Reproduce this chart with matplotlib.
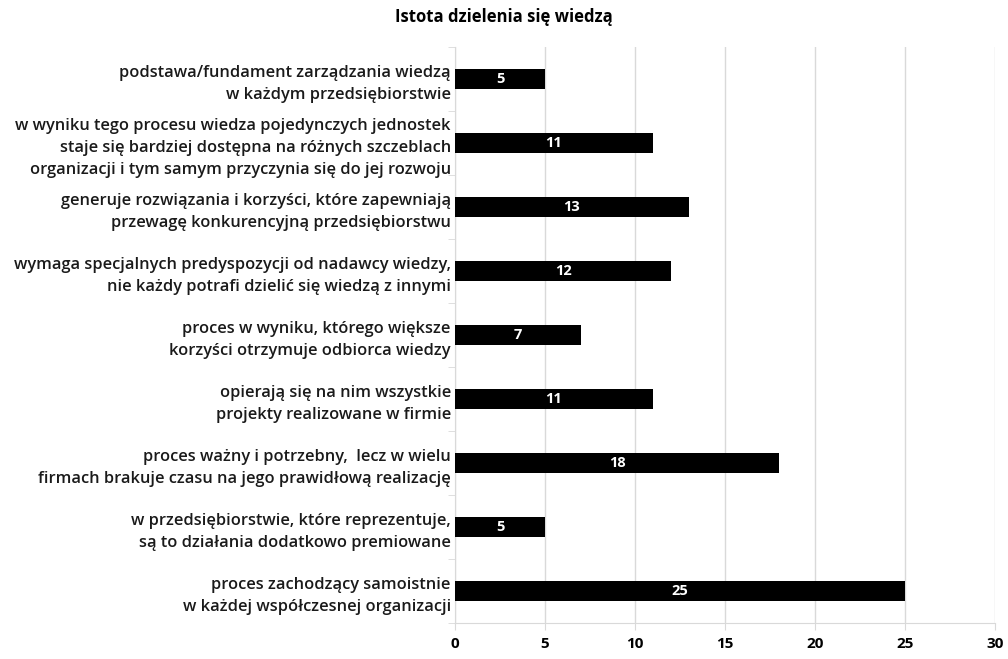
import matplotlib
matplotlib.use("Agg")
import matplotlib.pyplot as plt
import numpy as np

plt.rcParams['font.family'] = ['Open Sans', 'DejaVu Sans']

title = 'Istota dzielenia się wiedzą'
labels = [
    'podstawa/fundament zarządzania wiedzą\nw każdym przedsiębiorstwie',
    'w wyniku tego procesu wiedza pojedynczych jednostek\nstaje się bardziej dostępna na różnych szczeblach\norganizacji i tym samym przyczynia się do jej rozwoju',
    'generuje rozwiązania i korzyści, które zapewniają\nprzewagę konkurencyjną przedsiębiorstwu',
    'wymaga specjalnych predyspozycji od nadawcy wiedzy,\nnie każdy potrafi dzielić się wiedzą z innymi',
    'proces w wyniku, którego większe\nkorzyści otrzymuje odbiorca wiedzy',
    'opierają się na nim wszystkie\nprojekty realizowane w firmie',
    'proces ważny i potrzebny,  lecz w wielu\nfirmach brakuje czasu na jego prawidłową realizację',
    'w przedsiębiorstwie, które reprezentuje,\nsą to działania dodatkowo premiowane',
    'proces zachodzący samoistnie\nw każdej współczesnej organizacji',
]
values = [5, 11, 13, 12, 7, 11, 18, 5, 25]
xticks = [0, 5, 10, 15, 20, 25, 30]

grid_col = '#d9d9d9'

fig = plt.figure(figsize=(10.08, 6.59), dpi=100)
ax = fig.add_axes([455 / 1008, 1 - 623 / 659, 540 / 1008, 576 / 659])

y = np.arange(len(values))
bars = ax.barh(y, values, height=0.3, color='black', zorder=3)
for b, v in zip(bars, values):
    ax.text(v / 2, b.get_y() + b.get_height() / 2, str(v), color='white',
            ha='center', va='center', fontsize=10.5, fontweight='bold', zorder=4)

ax.set_ylim(len(values) - 0.5, -0.5)
ax.set_xlim(0, 30)
ax.set_xticks(xticks)
ax.set_xticklabels([str(t) for t in xticks], fontsize=11, fontweight='bold')
ax.set_yticks(y)
ax.set_yticklabels(labels, fontsize=11.8, fontweight='semibold', color='#1a1a1a',
                   linespacing=1.5)
ax.set_yticks(np.arange(-0.5, len(values)), minor=True)
ax.tick_params(axis='y', which='major', length=0, pad=3)
ax.tick_params(axis='y', which='minor', length=5, color=grid_col)
ax.tick_params(axis='x', length=5, color=grid_col, pad=5)

ax.grid(axis='x', color=grid_col, linewidth=1, zorder=0)
for s in ['top', 'right']:
    ax.spines[s].set_visible(False)
for s in ['left', 'bottom']:
    ax.spines[s].set_color(grid_col)

fig.text(0.5, 1 - 17 / 659, title, ha='center', va='center', fontsize=12,
         fontweight='bold')

fig.savefig('out.png', dpi=100)
